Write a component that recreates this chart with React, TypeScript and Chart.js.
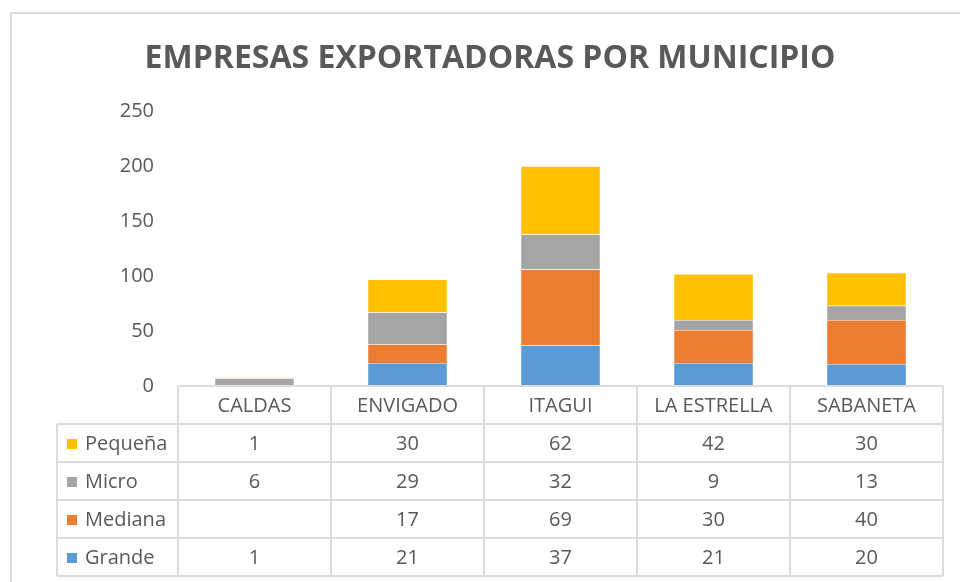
import React, { useEffect, useRef } from "react";
import { Chart, registerables } from "chart.js";

Chart.register(...registerables);

const categories = ["CALDAS", "ENVIGADO", "ITAGUI", "LA ESTRELLA", "SABANETA"];
const grande = [1, 21, 37, 21, 20];
const mediana = [null, 17, 69, 30, 40];
const micro = [6, 29, 32, 9, 13];
const pequena = [1, 30, 62, 42, 30];
const yTicks = [0, 50, 100, 150, 200, 250];

const seriesNames = ["Grande", "Mediana", "Micro", "Pequeña"];
const seriesColors = ["#5B9BD5", "#ED7D31", "#A5A5A5", "#FFC000"];

const FONT = "'Open Sans', 'Noto Sans', sans-serif";
const TEXT = "#595959";
const GRID = "#DCDCDC";

const tablePlugin = {
  id: "dataTable",
  beforeDraw(chart: any) {
    const ctx = chart.ctx;
    ctx.save();
    ctx.strokeStyle = GRID;
    ctx.lineWidth = 2;
    ctx.beginPath();
    ctx.moveTo(11, chart.height + 5);
    ctx.lineTo(11, 13);
    ctx.lineTo(chart.width + 5, 13);
    ctx.stroke();
    ctx.restore();
  },
  afterDraw(chart: any) {
    const ctx = chart.ctx;
    const x = chart.scales.x;
    const area = chart.chartArea;
    const left = area.left;
    const right = area.right;
    const top = area.bottom;
    const rowH = 38;
    const legendLeft = 57;
    const n = categories.length;
    const colW = (right - left) / n;
    const rows = chart.data.datasets.slice().reverse();
    const bottom = top + rowH * (rows.length + 1);

    ctx.save();
    ctx.strokeStyle = GRID;
    ctx.lineWidth = 2;
    ctx.beginPath();
    ctx.moveTo(left, top);
    ctx.lineTo(right, top);
    for (let r = 1; r <= rows.length + 1; r++) {
      const y = top + rowH * r;
      ctx.moveTo(legendLeft, y);
      ctx.lineTo(right, y);
    }
    ctx.moveTo(legendLeft, top + rowH);
    ctx.lineTo(legendLeft, bottom);
    for (let c = 0; c <= n; c++) {
      const xx = left + colW * c;
      ctx.moveTo(xx, top);
      ctx.lineTo(xx, bottom);
    }
    ctx.stroke();

    ctx.fillStyle = TEXT;
    ctx.font = `20px ${FONT}`;
    ctx.textAlign = "center";
    ctx.textBaseline = "middle";
    categories.forEach((c, i) => {
      ctx.fillText(c, x.getPixelForValue(i), top + rowH / 2 + 1);
    });
    rows.forEach((ds: any, r: number) => {
      const cy = top + rowH * (r + 1) + rowH / 2 + 1;
      ctx.fillStyle = ds.backgroundColor;
      ctx.fillRect(67, cy - 5, 10, 10);
      ctx.fillStyle = TEXT;
      ctx.textAlign = "left";
      ctx.fillText(ds.label, 85, cy);
      ctx.textAlign = "center";
      ds.data.forEach((v: any, i: number) => {
        if (v === null || v === undefined) return;
        ctx.fillText(String(v), x.getPixelForValue(i), cy);
      });
    });
    ctx.restore();
  },
};

export default function App() {
  const ref = useRef<HTMLCanvasElement>(null);
  useEffect(() => {
    if (!ref.current) return;
    const data = [grande, mediana, micro, pequena];
    const chart = new Chart(ref.current, {
      type: "bar",
      data: {
        labels: categories,
        datasets: seriesNames.map((name, i) => ({
          label: name,
          data: data[i],
          backgroundColor: seriesColors[i],
          borderColor: "#FFFFFF",
          borderWidth: 0.5,
          categoryPercentage: 1,
          barPercentage: 0.52,
        })),
      },
      options: {
        animation: false,
        responsive: false,
        layout: { padding: { left: 37, right: 17, top: 0, bottom: 196 } },
        plugins: {
          legend: { display: false },
          tooltip: { enabled: false },
          title: {
            display: true,
            text: "EMPRESAS EXPORTADORAS POR MUNICIPIO",
            color: TEXT,
            font: { family: FONT, size: 32, weight: "bold", lineHeight: 1.2 },
            padding: { top: 40, bottom: 33 },
          },
        },
        scales: {
          x: { stacked: true, display: false },
          y: {
            stacked: true,
            min: 0,
            max: 250,
            afterBuildTicks: (s: any) => {
              s.ticks = yTicks.map((v) => ({ value: v }));
            },
            afterFit: (s: any) => {
              s.width = 141;
            },
            grid: { display: false },
            border: { display: false },
            ticks: {
              color: TEXT,
              padding: 16,
              font: { family: FONT, size: 20 },
            },
          },
        },
      },
      plugins: [tablePlugin],
    });
    return () => chart.destroy();
  }, []);
  return (
    <div style={{ position: "fixed", left: 0, top: 0, width: 960, height: 582, background: "#fff" }}>
      <canvas ref={ref} width={960} height={582} style={{ display: "block" }} />
    </div>
  );
}
